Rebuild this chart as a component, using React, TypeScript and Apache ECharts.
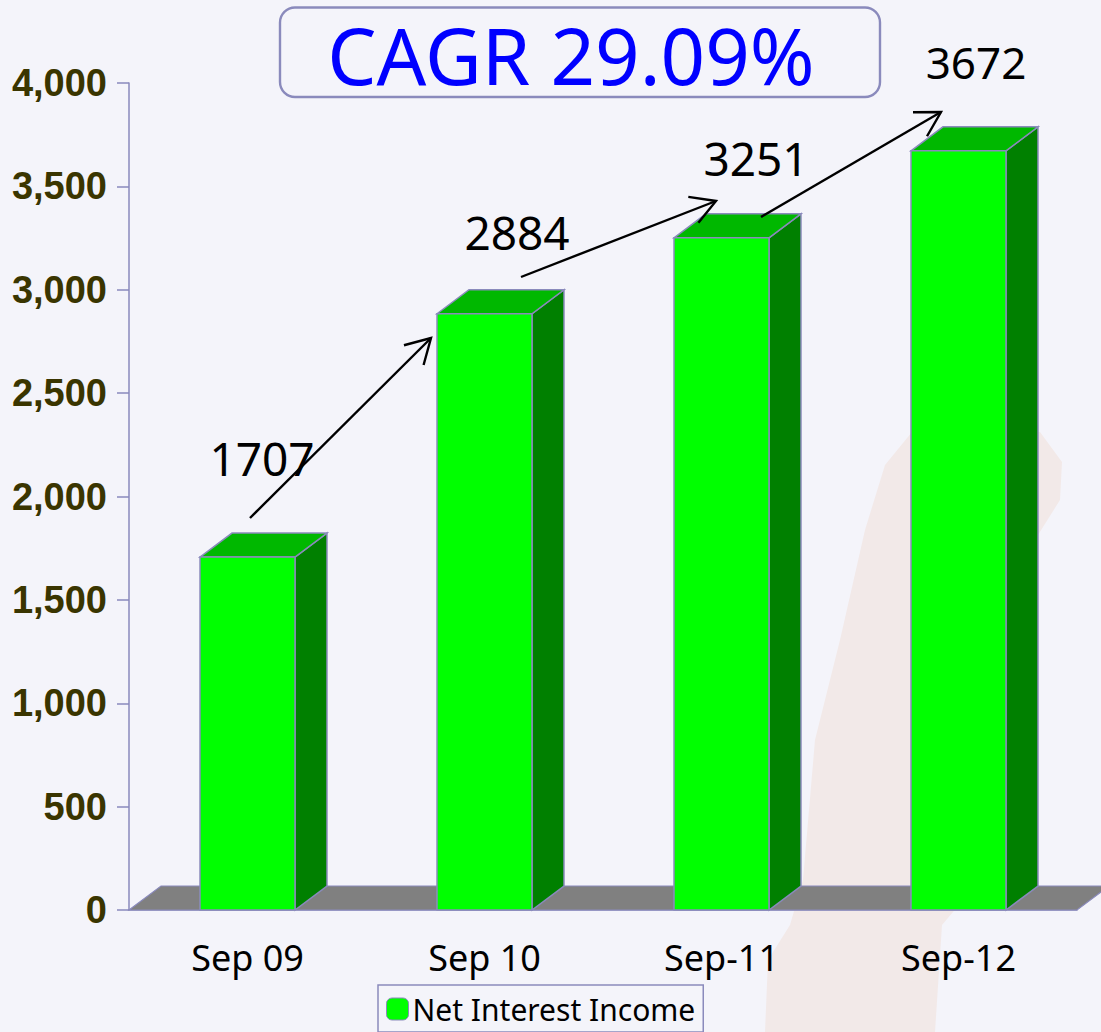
import React, { useEffect, useRef } from "react";
import * as echarts from "echarts";

const categories = ["Sep 09", "Sep 10", "Sep-11", "Sep-12"];
const netInterestIncome = [1707, 2884, 3251, 3672];
const yTicksMax = 4000;
const yTickStep = 500;
const seriesName = "Net Interest Income";
const headline = "CAGR 29.09%";

const BG = "#f4f4fa";
const EDGE = "#8a8abc";
const UI_FONT = "'Noto Sans', sans-serif";

// Hand-placed annotation layout from the reference
const labelAnchors = [
  { x: 262, y: 458, size: 46 },
  { x: 517, y: 232, size: 46 },
  { x: 756, y: 158, size: 46 },
  { x: 976, y: 62, size: 44 },
];
const arrows = [
  { from: [250, 518], to: [431, 338] },
  { from: [521, 277], to: [716, 201] },
  { from: [761, 217], to: [941, 112] },
];

const BAR_RATIO = 95 / 237;
const DEPTH_RATIO = 32 / 237;
const DEPTH_Y = 24;

function arrowElements() {
  const out: any[] = [];
  arrows.forEach(({ from, to }) => {
    out.push({
      type: "line",
      z: 100,
      shape: { x1: from[0], y1: from[1], x2: to[0], y2: to[1] },
      style: { stroke: "#000", lineWidth: 2.4 },
    });
    const a = Math.atan2(to[1] - from[1], to[0] - from[0]);
    const L = 28;
    const w = 0.52;
    out.push({
      type: "polyline",
      z: 100,
      shape: {
        points: [
          [to[0] - L * Math.cos(a - w), to[1] - L * Math.sin(a - w)],
          to,
          [to[0] - L * Math.cos(a + w), to[1] - L * Math.sin(a + w)],
        ],
      },
      style: { stroke: "#000", lineWidth: 2.4, fill: "none" },
    });
  });
  return out;
}

export default function App() {
  const ref = useRef<HTMLDivElement>(null);
  useEffect(() => {
    document.body.style.margin = "0";
    const chart = echarts.init(ref.current!, null, { renderer: "svg" });
    chart.setOption({
      animation: false,
      backgroundColor: BG,
      grid: { left: 129, right: 24, top: 83, bottom: 122, containLabel: false },
      legend: {
        show: true,
        data: [seriesName],
        left: 378,
        top: 985,
        padding: [9, 8, 8, 8],
        itemWidth: 22,
        itemHeight: 22,
        itemGap: 0,
        borderColor: EDGE,
        borderWidth: 1.5,
        backgroundColor: BG,
        textStyle: { fontFamily: UI_FONT, fontSize: 30, color: "#000", padding: [0, 0, 0, -1] },
        itemStyle: { color: "#00ff00", borderColor: EDGE, borderWidth: 1 },
      },
      xAxis: {
        type: "category",
        data: categories,
        boundaryGap: true,
        axisLine: { lineStyle: { color: EDGE, width: 1.5 } },
        axisTick: { length: 12, lineStyle: { color: EDGE, width: 1.5 } },
        axisLabel: { fontFamily: UI_FONT, fontSize: 36, color: "#000", margin: 29 },
      },
      yAxis: {
        type: "value",
        min: 0,
        max: yTicksMax,
        interval: yTickStep,
        splitLine: { show: false },
        axisLine: { show: true, lineStyle: { color: EDGE, width: 1.5 } },
        axisTick: { show: true, length: 12, lineStyle: { color: EDGE, width: 1.5 } },
        axisLabel: {
          fontFamily: "'Liberation Sans', Arial, sans-serif",
          fontWeight: "bold",
          fontSize: 38,
          color: "#3a3500",
          margin: 22,
        },
      },
      series: [
        {
          type: "custom",
          name: "floor",
          silent: true,
          clip: false,
          z: 1,
          data: [[0, 0]],
          encode: { x: 0, y: 1 },
          renderItem: (params: any, api: any) => {
            const cs = params.coordSys;
            const band = api.size([1, 0])[0];
            const dx = band * DEPTH_RATIO;
            const y = cs.y + cs.height;
            const x0 = cs.x;
            const x1 = cs.x + cs.width;
            return {
              type: "polygon",
              shape: { points: [[x0, y], [x0 + dx, y - DEPTH_Y], [x1 + dx, y - DEPTH_Y], [x1, y]] },
              style: { fill: "#808080", stroke: EDGE, lineWidth: 1.2 },
            };
          },
        },
        {
          type: "custom",
          name: seriesName,
          clip: false,
          z: 3,
          itemStyle: { color: "#00ff00" },
          data: netInterestIncome.map((v, i) => [i, v]),
          encode: { x: 0, y: 1 },
          renderItem: (_params: any, api: any) => {
            const idx = api.value(0);
            const top = api.coord([idx, api.value(1)]);
            const base = api.coord([idx, 0]);
            const band = api.size([1, 0])[0];
            const w = band * BAR_RATIO;
            const dx = band * DEPTH_RATIO;
            const l = top[0] - w / 2;
            const r = top[0] + w / 2;
            const edge = { stroke: EDGE, lineWidth: 1.5, lineJoin: "miter" };
            return {
              type: "group",
              children: [
                {
                  type: "polygon",
                  shape: { points: [[r, top[1]], [r + dx, top[1] - DEPTH_Y], [r + dx, base[1] - DEPTH_Y], [r, base[1]]] },
                  style: { fill: "#008000", ...edge },
                },
                {
                  type: "polygon",
                  shape: { points: [[l, top[1]], [l + dx, top[1] - DEPTH_Y], [r + dx, top[1] - DEPTH_Y], [r, top[1]]] },
                  style: { fill: "#00b800", ...edge },
                },
                {
                  type: "rect",
                  shape: { x: l, y: top[1], width: w, height: base[1] - top[1] },
                  style: { fill: "#00ff00", ...edge },
                },
              ],
            };
          },
        },
      ],
      graphic: {
        elements: [
          {
            type: "polygon",
            z: -1,
            silent: true,
            shape: {
              points: [
                [765, 1032], [768, 960], [790, 925], [803, 880], [815, 740], [840, 640], [865, 530],
                [885, 465], [912, 432], [1040, 432], [1062, 462], [1060, 500], [1038, 535],
                [1020, 700], [980, 880], [942, 925], [935, 1032],
              ],
            },
            style: { fill: "#f2e9e8" },
          },
          {
            type: "rect",
            z: 90,
            shape: { x: 280, y: 7.5, width: 600, height: 89.5, r: 15 },
            style: { fill: BG, stroke: EDGE, lineWidth: 2.4 },
          },
          {
            type: "text",
            z: 100,
            x: 571,
            y: 55,
            style: {
              text: headline,
              fontFamily: UI_FONT,
              fontSize: 78,
              fill: "#0000ff",
              align: "center",
              verticalAlign: "middle",
            },
          },
          ...netInterestIncome.map((v, i) => ({
            type: "text",
            z: 100,
            x: labelAnchors[i].x,
            y: labelAnchors[i].y,
            style: {
              text: String(v),
              fontFamily: UI_FONT,
              fontSize: labelAnchors[i].size,
              fill: "#000",
              align: "center",
              verticalAlign: "middle",
            },
          })),
          ...arrowElements(),
        ],
      },
    });
    return () => chart.dispose();
  }, []);
  return <div ref={ref} style={{ width: 1101, height: 1032 }} />;
}
